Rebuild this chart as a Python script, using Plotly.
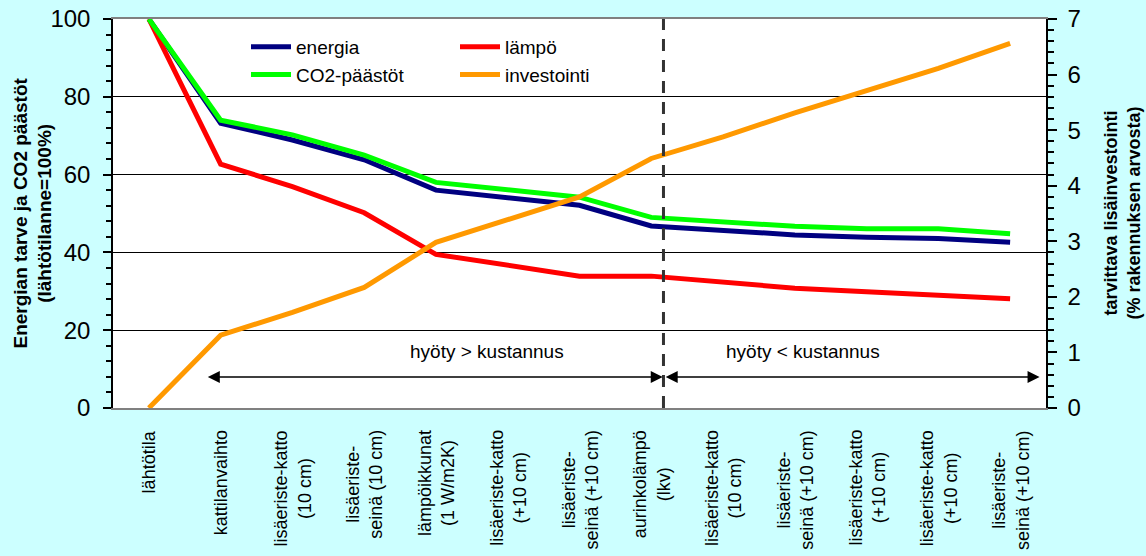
import plotly.graph_objects as go

categories = [
    "lähtötila",
    "kattilanvaihto",
    "lisäeriste-katto<br>(10 cm)",
    "lisäeriste-<br>seinä (10 cm)",
    "lämpöikkunat<br>(1 W/m2K)",
    "lisäeriste-katto<br>(+10 cm)",
    "lisäeriste-<br>seinä (+10 cm)",
    "aurinkolämpö<br>(lkv)",
    "lisäeriste-katto<br>(10 cm)",
    "lisäeriste-<br>seinä (+10 cm)",
    "lisäeriste-katto<br>(+10 cm)",
    "lisäeriste-katto<br>(+10 cm)",
    "lisäeriste-<br>seinä (+10 cm)",
]
energia = [100, 73.2, 68.9, 63.8, 56.0, 54.1, 52.1, 46.8, 45.6, 44.5, 43.9, 43.6, 42.6]
lampo = [100, 62.7, 56.9, 50.2, 39.5, 36.6, 33.9, 33.9, 32.4, 30.8, 29.9, 29.1, 28.1]
co2 = [100, 74.0, 70.2, 65.0, 58.0, 56.0, 54.2, 49.0, 47.8, 46.7, 46.1, 46.1, 44.8]
investointi = [0, 1.31, 1.72, 2.17, 2.98, 3.38, 3.80, 4.49, 4.88, 5.31, 5.70, 6.11, 6.56]

xs = list(range(len(categories)))
FONT = "Arial, Liberation Sans, sans-serif"

W, H = 1146, 556
L, R, T, B = 113, 100, 19, 148
pw = W - L - R
ph = H - T - B

fig = go.Figure()
fig.add_trace(go.Scatter(x=xs, y=energia, name="energia", mode="lines",
                         line=dict(color="#000080", width=5), legend="legend"))
fig.add_trace(go.Scatter(x=xs, y=lampo, name="lämpö", mode="lines",
                         line=dict(color="#FF0000", width=5), legend="legend2"))
fig.add_trace(go.Scatter(x=xs, y=co2, name="CO2-päästöt", mode="lines",
                         line=dict(color="#00FF00", width=5), legend="legend"))
fig.add_trace(go.Scatter(x=xs, y=investointi, name="investointi", mode="lines",
                         line=dict(color="#FF9900", width=5), legend="legend2",
                         yaxis="y2"))

# dashed divider
fig.add_shape(type="line", xref="x", yref="paper", x0=7.17, x1=7.17, y0=0, y1=1,
              line=dict(color="#333333", width=3, dash="12px,9px"))

# double arrows
for x0, x1 in [(0.80, 7.16), (7.18, 12.41)]:
    fig.add_annotation(x=x1, y=8, ax=x0, ay=8, xref="x", yref="y", axref="x", ayref="y",
                       showarrow=True, arrowhead=2, arrowside="end+start",
                       arrowsize=1.6, arrowwidth=1.5, arrowcolor="black", text="")

fig.add_annotation(x=4.71, y=14.4, xref="x", yref="y", text="hyöty > kustannus",
                   showarrow=False, font=dict(size=19, color="black", family=FONT))
fig.add_annotation(x=9.11, y=14.4, xref="x", yref="y", text="hyöty < kustannus",
                   showarrow=False, font=dict(size=19, color="black", family=FONT))

# category labels (centred multi-line, rotated), placed on the x scale
for xi, lab in zip(xs, categories):
    fig.add_annotation(x=xi, y=-20 / ph, xref="x", yref="paper",
                       xanchor="center", yanchor="top", text=lab, align="center",
                       textangle=-90, showarrow=False,
                       font=dict(size=18, color="black", family=FONT))

# axis titles
fig.add_annotation(x=(32 - L) / pw, y=0.5, xref="paper", yref="paper",
                   xanchor="center", yanchor="middle",
                   text="<b>Energian tarve ja CO2 päästöt<br>(lähtötilanne=100%)</b>",
                   textangle=-90, showarrow=False,
                   font=dict(size=19, color="black", family=FONT))
fig.add_annotation(x=(1122 - L) / pw, y=0.5, xref="paper", yref="paper",
                   xanchor="center", yanchor="middle",
                   text="<b>tarvittava lisäinvestointi<br>(% rakennuksen arvosta)</b>",
                   textangle=-90, showarrow=False,
                   font=dict(size=18, color="black", family=FONT))

fig.update_layout(
    width=W, height=H,
    margin=dict(l=L, r=R, t=T, b=B, autoexpand=False),
    paper_bgcolor="#CCFFFF",
    plot_bgcolor="white",
    font=dict(family=FONT, color="black"),
    xaxis=dict(range=[-0.5, 12.5], tickmode="array", tickvals=xs,
               showticklabels=False, showgrid=False, zeroline=False,
               showline=True, linecolor="#808080", linewidth=1.5, mirror=True,
               ticks="", automargin=False),
    yaxis=dict(range=[0, 100], dtick=20, showgrid=True, gridcolor="black", gridwidth=1,
               zeroline=False, showline=True, linecolor="black", linewidth=1.5,
               ticks="outside", ticklen=8, tickcolor="black", tickwidth=1.5,
               tickfont=dict(size=24), ticklabelstandoff=8, automargin=False,
               minor=dict(dtick=4, ticks="outside", ticklen=5, tickcolor="black",
                          tickwidth=1.5, showgrid=False)),
    yaxis2=dict(range=[0, 7], dtick=1, overlaying="y", side="right", showgrid=False,
                zeroline=False, showline=True, linecolor="black", linewidth=1.5,
                ticks="outside", ticklen=9, tickcolor="black", tickwidth=1.5,
                tickfont=dict(size=24), ticklabelstandoff=6, automargin=False,
                minor=dict(dtick=0.2, ticks="outside", ticklen=6, tickcolor="black",
                           tickwidth=1.5)),
    legend=dict(x=(246 - L) / pw, y=(ph - 9) / ph, xanchor="left", yanchor="top",
                bgcolor="rgba(0,0,0,0)", font=dict(size=19), itemwidth=40,
                tracegroupgap=0, orientation="v"),
    legend2=dict(x=(455 - L) / pw, y=(ph - 9) / ph, xanchor="left", yanchor="top",
                 bgcolor="rgba(0,0,0,0)", font=dict(size=19), itemwidth=40,
                 tracegroupgap=0, orientation="v"),
)

fig.write_html("out.html",
               config={"displayModeBar": False},
               post_script="document.body.style.margin='0';"
                           "document.body.style.background='#CCFFFF';")
